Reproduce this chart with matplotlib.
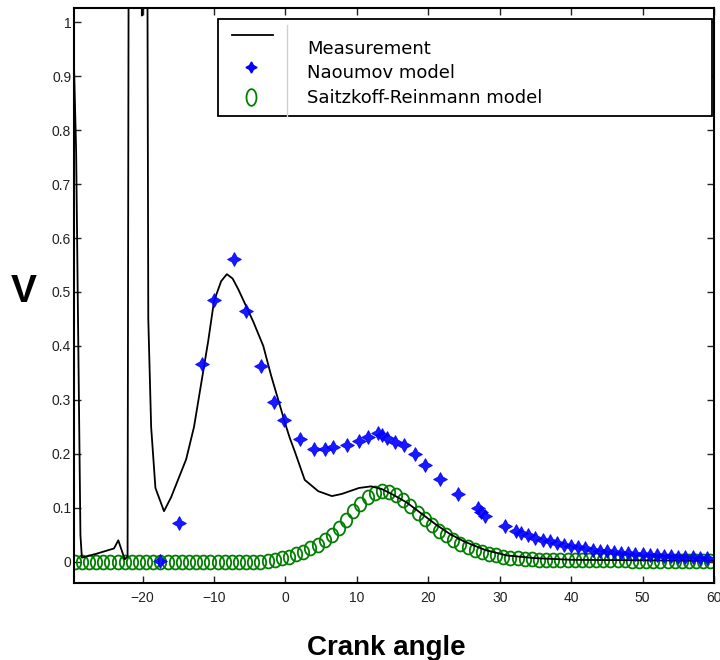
import numpy as np
import matplotlib.pyplot as plt
from matplotlib.lines import Line2D
from matplotlib.patches import Rectangle
from matplotlib.path import Path

# measured signal (crank angle in degrees, value)
meas_angle = [-29.6, -29.3, -28.7, -28.5, -26.5, -24.0, -23.4, -22.5, -22.1,
              -21.9, -20.4, -20.1, -19.8, -19.4, -19.2, -18.8, -18.2, -17.0,
              -16.0, -15.1, -13.9, -12.8, -11.8, -10.8, -10.0, -9.0, -8.2,
              -7.4, -6.6, -5.9, -4.5, -3.1, -2.0, -1.0, 0.0, 0.6, 1.3, 2.7,
              4.6, 6.5, 7.9, 10.3, 12.0, 13.5, 15.0, 17.0, 19.0, 21.0, 23.0,
              25.0, 28.0, 31.0, 35.0, 40.0, 50.0, 60.0]
meas_value = [0.92, 0.76, 0.05, 0.008, 0.015, 0.025, 0.04, 0.005, 0.01,
              1.5, 1.5, 1.012, 1.5, 1.5, 0.45, 0.25, 0.137, 0.094,
              0.12, 0.15, 0.19, 0.25, 0.33, 0.41, 0.483, 0.52, 0.533,
              0.525, 0.505, 0.485, 0.445, 0.40, 0.345, 0.30, 0.255, 0.23, 0.205, 0.152,
              0.131, 0.122, 0.126, 0.137, 0.14, 0.135, 0.125, 0.11, 0.09, 0.07, 0.052,
              0.038, 0.022, 0.012, 0.007, 0.004, 0.003, 0.002]

# Naoumov model
nao_angle = [-17.6, -14.9, -11.7, -10.0, -7.2, -5.5, -3.4, -1.6, -0.2, 2.1,
             4.0, 5.5, 6.7, 8.6, 10.3, 11.6, 12.9, 13.5, 14.2, 15.4, 16.6,
             18.2, 19.6, 21.7, 24.1, 26.9, 27.4, 28.0, 30.7, 32.3, 33.0,
             34.0, 35.0, 36.0, 37.0, 38.0, 39.0, 40.0, 41.0, 42.0, 43.0,
             44.0, 45.0, 46.0, 47.0, 48.0, 49.0, 50.0, 51.0, 52.0, 53.0,
             54.0, 55.0, 56.0, 57.0, 58.0, 59.0]
nao_value = [0.002, 0.072, 0.367, 0.485, 0.561, 0.465, 0.362, 0.297, 0.262, 0.227,
             0.210, 0.210, 0.212, 0.216, 0.224, 0.232, 0.238, 0.236, 0.230, 0.222, 0.216,
             0.200, 0.180, 0.153, 0.126, 0.100, 0.093, 0.086, 0.067, 0.058, 0.054,
             0.049, 0.045, 0.041, 0.038, 0.035, 0.032, 0.029, 0.027, 0.025, 0.023,
             0.021, 0.020, 0.018, 0.017, 0.016, 0.015, 0.014, 0.013, 0.012, 0.011,
             0.011, 0.010, 0.009, 0.009, 0.008, 0.007]

# Saitzkoff-Reinmann model, sampled every degree from -29.5
sr_angle = np.arange(-29.5, 60.0, 1.0)
sr_value = [0.0] * 27 + [
    0.002, 0.004, 0.007, 0.010, 0.014, 0.019, 0.025, 0.032, 0.040, 0.050,
    0.063, 0.078, 0.094, 0.108, 0.120, 0.128, 0.132, 0.130, 0.124, 0.114,
    0.103, 0.091, 0.079, 0.068, 0.058, 0.049, 0.041, 0.034, 0.028, 0.023,
    0.019, 0.015, 0.012, 0.010, 0.008, 0.007, 0.006, 0.005, 0.004,
    0.003, 0.003, 0.003, 0.003, 0.003, 0.003, 0.003, 0.003, 0.003, 0.003,
    0.003, 0.003, 0.002, 0.002, 0.002, 0.002, 0.002, 0.002, 0.002, 0.002,
    0.002, 0.002, 0.002, 0.002]

x_ticks = [-20, -10, 0, 10, 20, 30, 40, 50, 60]
y_ticks = [0, 0.1, 0.2, 0.3, 0.4, 0.5, 0.6, 0.7, 0.8, 0.9, 1]
y_tick_labels = ['0', '0.1', '0.2', '0.3', '0.4', '0.5', '0.6', '0.7', '0.8', '0.9', '1']

W, H = 720, 660


def fx(px):
    return px / W


def fy(py):
    return 1 - py / H


fig = plt.figure(figsize=(7.2, 6.6), dpi=100)
ax = fig.add_axes([fx(74), fy(583), fx(714) - fx(74), fy(8) - fy(583)])

green = '#007f00'
star = (4, 1, 0)
t = np.linspace(0, 2 * np.pi, 60)
oval = Path(np.column_stack([0.82 * np.cos(t), np.sin(t)]))

ax.plot(sr_angle, sr_value, linestyle='none', marker=oval, markersize=10,
        markerfacecolor='none', markeredgecolor=green, markeredgewidth=1.3, zorder=2)
ax.plot(meas_angle, meas_value, color='black', linewidth=1.3, zorder=3)
ax.plot(nao_angle, nao_value, linestyle='none', marker=star, markersize=10,
        color='#0000ff', markeredgewidth=0.6, alpha=0.9, zorder=4)

ax.set_xlim(-29.6, 60)
ax.set_ylim(-0.039, 1.026)
ax.set_xticks(x_ticks)
ax.set_yticks(y_ticks)
ax.set_yticklabels(y_tick_labels)
ax.tick_params(direction='in', top=True, right=True, length=5, width=1,
               labelsize=10, colors='#222222')
ax.tick_params(axis='y', pad=2)
ax.tick_params(axis='x', pad=6)
for lab in ax.get_xticklabels() + ax.get_yticklabels():
    lab.set_family('Liberation Sans')
for sp in ax.spines.values():
    sp.set_linewidth(1.5)

fig.text(fx(386), fy(655), 'Crank angle', ha='center', va='baseline',
         fontsize=20, fontweight='bold', family='Liberation Sans')
fig.text(fx(24), fy(302), 'V', ha='center', va='baseline',
         fontsize=28, fontweight='bold', family='Liberation Sans')

# legend box drawn by hand
fig.add_artist(Rectangle((fx(218), fy(116)), fx(712) - fx(218), fy(19) - fy(116),
                         transform=fig.transFigure, facecolor='white',
                         edgecolor='black', linewidth=1.3, zorder=5))
fig.add_artist(Line2D([fx(287), fx(287)], [fy(25), fy(116)], transform=fig.transFigure,
                      color='#d0d0d0', linewidth=1, zorder=6))
fig.add_artist(Line2D([fx(232), fx(273)], [fy(35), fy(35)], transform=fig.transFigure,
                      color='black', linewidth=1.3, zorder=6))
fig.add_artist(Line2D([fx(251)], [fy(67)], transform=fig.transFigure, linestyle='none',
                      marker=star, markersize=8, color='#0000ff', zorder=6))
ellipse = Path(np.column_stack([0.6 * np.cos(t), np.sin(t)]))
fig.add_artist(Line2D([fx(251)], [fy(97)], transform=fig.transFigure, linestyle='none',
                      marker=ellipse, markersize=12, markerfacecolor='none',
                      markeredgecolor=green, markeredgewidth=1.3, zorder=6))

legend_labels = ['Measurement', 'Naoumov model', 'Saitzkoff-Reinmann model']
for label, base in zip(legend_labels, [54, 78, 103]):
    fig.text(fx(307), fy(base), label, ha='left', va='baseline', fontsize=13,
             family='DejaVu Sans', color='black', zorder=7)

fig.savefig('out.png', dpi=100)
